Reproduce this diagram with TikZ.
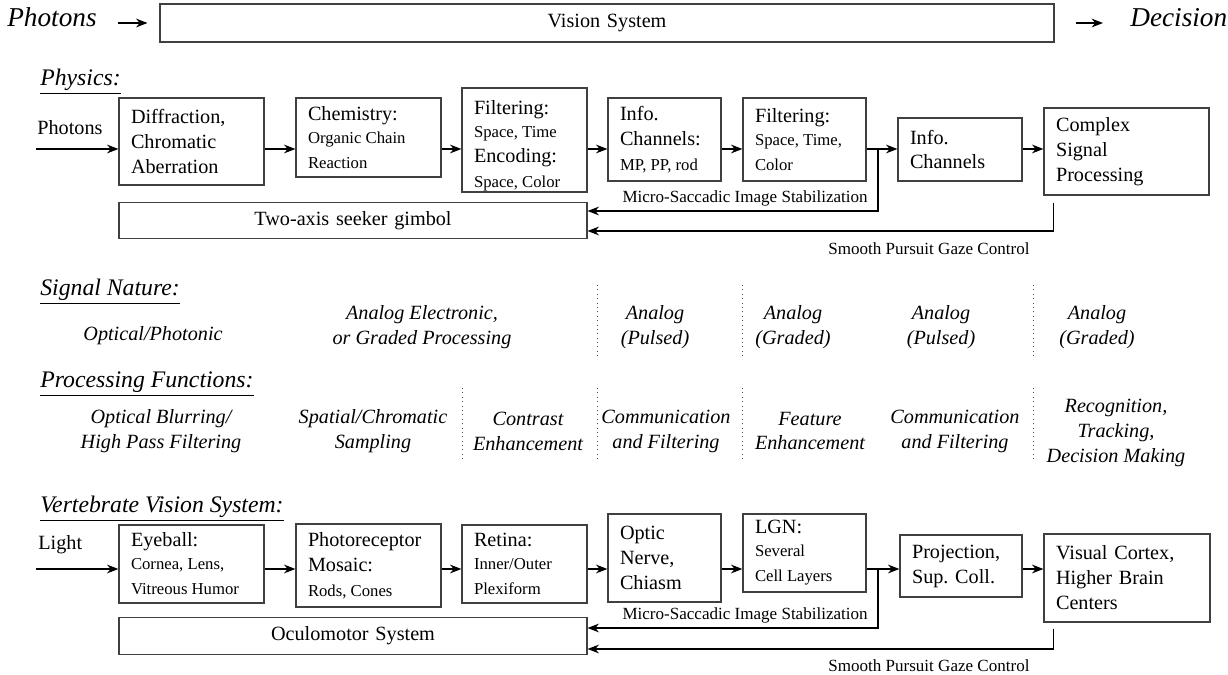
\documentclass[tikz,border=0pt]{standalone}
\usepackage{fontspec}
\setmainfont{Liberation Serif}
\usetikzlibrary{arrows.meta}

\newcommand{\bigtxt}{\fontsize{11.5}{14.2}\selectfont\frenchspacing\spaceskip=0pt\xspaceskip=0pt\relax}
\newcommand{\smtxt}{\fontsize{9.5}{13}\selectfont\frenchspacing\spaceskip=0pt\xspaceskip=0pt\relax}

\begin{document}
\begin{tikzpicture}[
  x=0.02cm, y=-0.02cm,
  block/.style={rectangle, draw=black!75, line width=0.7pt, align=left, inner xsep=0.24cm, inner ysep=0pt, font=\bigtxt},
  longblock/.style={block, align=center, text width=8.88cm, minimum height=0.73cm},
  toptxt/.style={font=\fontsize{15.5}{18}\selectfont\itshape, anchor=base west, inner sep=0pt},
  header/.style={font=\fontsize{13.5}{16}\selectfont\itshape, anchor=base west, inner sep=0pt},
  plaintxt/.style={font=\bigtxt, anchor=base west, inner sep=0pt},
  ctrltxt/.style={font=\fontsize{9.7}{12}\selectfont, inner sep=0pt},
  nature/.style={font=\fontsize{11.5}{14.2}\selectfont\itshape, align=center, inner sep=0pt},
  divider/.style={dotted, line width=0.5pt, draw=black!70},
  arrow/.style={-{Stealth[length=6.5pt,width=5pt]}, line width=0.7pt}
]
\useasboundingbox (0,0) rectangle (1228,675);
\def\yPhys{149}
\def\yVert{569}

% top line
\node[toptxt] (photons) at (7,27) {Photons};
\node[block, align=center, text width=17.4cm, minimum height=0.76cm] (vision) at (607,23) {Vision System};
\node[toptxt] (decision) at (1130,27) {Decision};
\draw[arrow] ([xshift=0.42cm]photons.east |- vision.west) -- ([xshift=-0.24cm]vision.west);
\draw[arrow] ([xshift=0.42cm]vision.east) -- ([xshift=-0.54cm]decision.west |- vision.east);

% physics
\node[header] (physics) at (40,86) {\underline{Physics:}};
\node[plaintxt] (physin) at (37,135) {Photons};
\coordinate (physrow) at (36,\yPhys);
\node[block, text width=2.42cm, minimum height=1.74cm] (diffr) at (191.5,141.5) {Diffraction,\\Chromatic\\Aberration};
\node[block, text width=2.42cm, minimum height=1.58cm] (chem) at (368.5,137.5) {Chemistry:\\\smtxt Organic Chain\\Reaction};
\node[block, text width=2.02cm, minimum height=2.08cm] (filtenc) at (524.5,140) {\rule{0pt}{0.5cm}Filtering:\\\smtxt Space, Time\\\bigtxt Encoding:\\\smtxt Space, Color};
\node[block, text width=1.78cm, minimum height=1.66cm] (infomp) at (664.5,139.5) {Info.\\Channels:\\\smtxt MP, PP, rod};
\node[block, text width=1.98cm, minimum height=1.66cm] (filtstc) at (804.5,139.5) {Filtering:\\\smtxt Space, Time,\\Color};
\node[block, text width=2.0cm, minimum height=1.26cm] (infoch) at (960,149.5) {Info.\\Channels};
\node[block, text width=2.82cm, minimum height=1.74cm] (complex) at (1126.5,151.5) {Complex\\Signal\\Processing};
\node[longblock] (gimbol) at (353,220.5) {Two-axis seeker gimbol};
\coordinate (physbranch) at (878,\yPhys);
\node[ctrltxt, anchor=base east] (physmicro) at (868,203) {Micro-Saccadic Image Stabilization};
\node[ctrltxt, anchor=base west] (physsmooth) at (828,255) {Smooth Pursuit Gaze Control};
\draw[arrow] (physrow) -- (diffr.west |- physrow);
\draw[arrow] (diffr.east |- physrow) -- (chem.west |- physrow);
\draw[arrow] (chem.east |- physrow) -- (filtenc.west |- physrow);
\draw[arrow] (filtenc.east |- physrow) -- (infomp.west |- physrow);
\draw[arrow] (infomp.east |- physrow) -- (filtstc.west |- physrow);
\draw[arrow] (filtstc.east |- physrow) -- (infoch.west |- physrow);
\draw[arrow] (infoch.east |- physrow) -- (complex.west |- physrow);
\draw[arrow] (physbranch) |- ([yshift=0.19cm]gimbol.east);
\draw[arrow] ([xshift=0.2cm, yshift=-0.14cm]complex.south west) |- ([yshift=-0.21cm]gimbol.east);

% signal nature
\node[header] (signal) at (40,296) {\underline{Signal Nature:}};
\node[nature] (optical) at (153,336) {Optical/Photonic};
\node[nature] (analogel) at (422,327) {Analog Electronic,\\or Graded Processing};
\node[nature] (pulsedone) at (655,327) {Analog\\(Pulsed)};
\node[nature] (gradedone) at (793,327) {Analog\\(Graded)};
\node[nature] (pulsedtwo) at (941,327) {Analog\\(Pulsed)};
\node[nature] (gradedtwo) at (1097,327) {Analog\\(Graded)};
\draw[divider] (597,285) -- (597,356);
\draw[divider] (742,285) -- (742,356);
\draw[divider] (1033,285) -- (1033,356);

% processing functions
\node[header] (functions) at (40,388) {\underline{Processing Functions:}};
\node[nature] (blurring) at (161,431) {Optical Blurring/\\High Pass Filtering};
\node[nature] (sampling) at (373,431) {Spatial/Chromatic\\Sampling};
\node[nature] (contrast) at (528,431) {Contrast\\Enhancement};
\node[nature] (commone) at (666,431) {Communication\\and Filtering};
\node[nature] (feature) at (810,431) {Feature\\Enhancement};
\node[nature] (commtwo) at (955,431) {Communication\\and Filtering};
\node[nature] (recog) at (1116,433) {Recognition,\\Tracking,\\Decision Making};
\draw[divider] (462,388) -- (462,460);
\draw[divider] (597,388) -- (597,460);
\draw[divider] (742,388) -- (742,460);
\draw[divider] (1033,388) -- (1033,460);

% vertebrate vision system
\node[header] (vertebrate) at (40,513) {\underline{Vertebrate Vision System:}};
\node[plaintxt] (light) at (38,550) {Light};
\coordinate (vertrow) at (36,\yVert);
\node[block, text width=2.42cm, minimum height=1.56cm] (eyeball) at (191.5,564) {Eyeball:\\\smtxt Cornea, Lens,\\Vitreous Humor};
\node[block, text width=2.42cm, minimum height=1.66cm] (mosaic) at (368.5,565.5) {Photoreceptor\\Mosaic:\\\smtxt Rods, Cones};
\node[block, text width=2.02cm, minimum height=1.56cm] (retina) at (524.5,564) {Retina:\\\smtxt Inner/Outer\\Plexiform};
\node[block, text width=1.78cm, minimum height=1.76cm] (optic) at (664.5,558) {Optic\\Nerve,\\Chiasm};
\node[block, text width=1.98cm, minimum height=1.56cm] (lgn) at (804.5,553) {LGN:\\\smtxt Several\\Cell Layers};
\node[block, text width=1.96cm, minimum height=1.24cm] (projection) at (961,566) {Projection,\\Sup. Coll.};
\node[block, text width=2.84cm, minimum height=1.76cm] (cortex) at (1127,578) {Visual Cortex,\\Higher Brain\\Centers};
\node[longblock] (oculo) at (353,636) {Oculomotor System};
\coordinate (vertbranch) at (878,\yVert);
\node[ctrltxt, anchor=base east] (vertmicro) at (868,620) {Micro-Saccadic Image Stabilization};
\node[ctrltxt, anchor=base west] (vertsmooth) at (828,671) {Smooth Pursuit Gaze Control};
\draw[arrow] (vertrow) -- (eyeball.west |- vertrow);
\draw[arrow] (eyeball.east |- vertrow) -- (mosaic.west |- vertrow);
\draw[arrow] (mosaic.east |- vertrow) -- (retina.west |- vertrow);
\draw[arrow] (retina.east |- vertrow) -- (optic.west |- vertrow);
\draw[arrow] (optic.east |- vertrow) -- (lgn.west |- vertrow);
\draw[arrow] (lgn.east |- vertrow) -- (projection.west |- vertrow);
\draw[arrow] (projection.east |- vertrow) -- (cortex.west |- vertrow);
\draw[arrow] (vertbranch) |- ([yshift=0.16cm]oculo.east);
\draw[arrow] ([xshift=0.2cm, yshift=-0.12cm]cortex.south west) |- ([yshift=-0.26cm]oculo.east);
\end{tikzpicture}
\end{document}
